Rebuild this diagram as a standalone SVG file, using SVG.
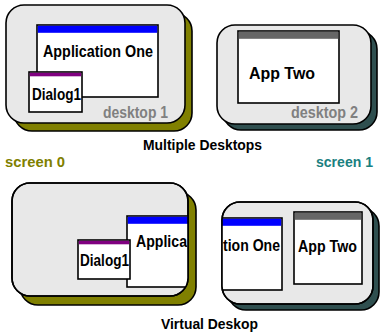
<svg xmlns="http://www.w3.org/2000/svg" width="384" height="335" viewBox="0 0 384 335">
<style>
text{font-family:"Liberation Sans",Arial,sans-serif;font-weight:bold;font-size:17px;fill:#000}
.t14{font-size:15px}
.scr{fill:#e8e8e8;stroke:#000;stroke-width:1.6}
.sh0{fill:#808000;stroke:#000;stroke-width:1.6}
.sh1{fill:#2f4f4f;stroke:#000;stroke-width:1.6}
.win{fill:#fff;stroke:#000;stroke-width:1.6}
.lbl{fill:#808080}
</style>
<defs>
<clipPath id="c0"><rect x="12" y="183" width="176" height="113" rx="18"/></clipPath>
<clipPath id="c1"><rect x="222" y="202" width="151" height="102" rx="18"/></clipPath>
</defs>
<rect width="384" height="335" fill="#fff"/>
<g id="desktop1">
<rect class="sh0" x="14" y="13" width="178" height="118" rx="18"/>
<rect class="scr" x="6" y="5" width="179" height="118" rx="18"/>
<text class="lbl" x="103" y="118" textLength="65" lengthAdjust="spacingAndGlyphs">desktop 1</text>
</g>
<g id="appOne">
<rect class="win" x="37" y="25" width="121" height="72"/>
<rect x="37.8" y="25.8" width="119.4" height="7" fill="#0000ff"/>
<text x="43" y="57" textLength="110" lengthAdjust="spacingAndGlyphs">Application One</text>
</g>
<g id="dialog1">
<rect class="win" x="29" y="72" width="53" height="40"/>
<rect x="29.8" y="72.8" width="51.4" height="3.5" fill="#800080"/>
<text x="32" y="100" textLength="49" lengthAdjust="spacingAndGlyphs">Dialog1</text>
</g>
<g id="desktop2">
<rect class="sh1" x="223" y="31" width="154" height="99" rx="18"/>
<rect class="scr" x="217" y="25" width="154" height="99" rx="18"/>
<text class="lbl" x="291" y="118" textLength="67" lengthAdjust="spacingAndGlyphs">desktop 2</text>
</g>
<g id="appTwo">
<rect class="win" x="238" y="31" width="101" height="72"/>
<rect x="238.8" y="31.8" width="99.4" height="7" fill="#666"/>
<text x="249" y="79" textLength="66" lengthAdjust="spacingAndGlyphs">App Two</text>
</g>
<g id="titleMultiple">
<text class="t14" x="143" y="150" textLength="119" lengthAdjust="spacingAndGlyphs">Multiple Desktops</text>
</g>
<g id="screen0label">
<text class="t14" x="5" y="167" style="fill:#808000" textLength="60" lengthAdjust="spacingAndGlyphs">screen 0</text>
</g>
<g id="screen1label">
<text class="t14" x="316" y="167" style="fill:#1a8080" textLength="57" lengthAdjust="spacingAndGlyphs">screen 1</text>
</g>
<g id="virtualScreen0">
<rect class="sh0" x="20" y="192" width="176" height="113" rx="18"/>
<rect class="scr" x="12" y="183" width="176" height="113" rx="18"/>
<g clip-path="url(#c0)">
<g id="vAppOne">
<rect class="win" x="127" y="216" width="121" height="71"/>
<rect x="127.8" y="216.8" width="119.4" height="7" fill="#0000ff"/>
<text x="136" y="247" textLength="51" lengthAdjust="spacingAndGlyphs">Applica</text>
</g>
<g id="vDialog1">
<rect class="win" x="78" y="240" width="52" height="39"/>
<rect x="78.8" y="240.8" width="50.4" height="3.5" fill="#800080"/>
<text x="80" y="266" textLength="49" lengthAdjust="spacingAndGlyphs">Dialog1</text>
</g>
</g>
<rect x="12" y="183" width="176" height="113" rx="18" fill="none" stroke="#000" stroke-width="1.6"/>
</g>
<g id="virtualScreen1">
<rect class="sh1" x="228" y="208" width="151" height="102" rx="18"/>
<rect class="scr" x="222" y="202" width="151" height="102" rx="18"/>
<g clip-path="url(#c1)">
<g id="vAppOne2">
<rect class="win" x="161" y="218" width="121" height="72"/>
<rect x="161.8" y="218.8" width="119.4" height="7" fill="#0000ff"/>
<text x="223" y="251" textLength="57" lengthAdjust="spacingAndGlyphs">tion One</text>
</g>
</g>
<g id="vAppTwo">
<rect class="win" x="294" y="212" width="68" height="72"/>
<rect x="294.8" y="212.8" width="66.4" height="7" fill="#666"/>
<text x="298" y="252" textLength="59" lengthAdjust="spacingAndGlyphs">App Two</text>
</g>
<rect x="222" y="202" width="151" height="102" rx="18" fill="none" stroke="#000" stroke-width="1.6"/>
</g>
<g id="titleVirtual">
<text class="t14" x="161" y="329" textLength="97" lengthAdjust="spacingAndGlyphs">Virtual Deskop</text>
</g>
</svg>
